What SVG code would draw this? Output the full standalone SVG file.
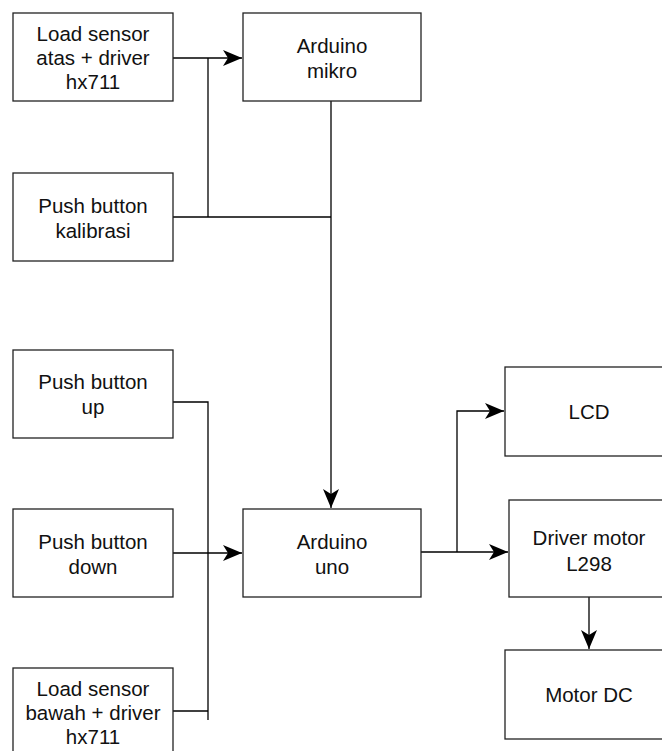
<svg xmlns="http://www.w3.org/2000/svg" width="662" height="751" viewBox="0 0 662 751">
<style>
.box{fill:#fff;stroke:#222;stroke-width:1.3}
.t{font-family:"Liberation Sans",Arial,sans-serif;font-size:20.5px;fill:#111;text-anchor:middle}
.c{fill:none;stroke:#000;stroke-width:1.3}
</style>
<defs>
<marker id="arr" markerUnits="userSpaceOnUse" markerWidth="20" markerHeight="18" refX="19" refY="8" orient="auto">
<path d="M0,0 L19,8 L0,16 L5,8 z" fill="#000"/>
</marker>
</defs>
<rect width="662" height="751" fill="#fff"/>
<g id="connectors">
<path class="c" d="M173,58 H242" marker-end="url(#arr)"/>
<path class="c" d="M173,217 H331"/>
<path class="c" d="M208,58 V217"/>
<path class="c" d="M331,101 V508" marker-end="url(#arr)"/>
<path class="c" d="M173,402 H208 V720"/>
<path class="c" d="M173,711 H208"/>
<path class="c" d="M173,553 H242" marker-end="url(#arr)"/>
<path class="c" d="M421,552 H457"/>
<path class="c" d="M457,552 V411 H504" marker-end="url(#arr)"/>
<path class="c" d="M457,552 H508" marker-end="url(#arr)"/>
<path class="c" d="M589,597 V649" marker-end="url(#arr)"/>
</g>
<g id="load-atas">
<rect class="box" x="13" y="13" width="160" height="88"/>
<text class="t" x="93" y="41">Load sensor</text>
<text class="t" x="93" y="65">atas + driver</text>
<text class="t" x="93" y="89">hx711</text>
</g>
<g id="arduino-mikro">
<rect class="box" x="243" y="13" width="178" height="88"/>
<text class="t" x="332" y="52.5">Arduino</text>
<text class="t" x="332" y="78">mikro</text>
</g>
<g id="push-kalibrasi">
<rect class="box" x="13" y="173" width="160" height="88"/>
<text class="t" x="93" y="212.5">Push button</text>
<text class="t" x="93" y="237.5">kalibrasi</text>
</g>
<g id="push-up">
<rect class="box" x="13" y="350" width="160" height="88"/>
<text class="t" x="93" y="389">Push button</text>
<text class="t" x="93" y="414">up</text>
</g>
<g id="push-down">
<rect class="box" x="13" y="509" width="160" height="88"/>
<text class="t" x="93" y="548.5">Push button</text>
<text class="t" x="93" y="573.5">down</text>
</g>
<g id="load-bawah">
<rect class="box" x="13" y="668" width="160" height="90"/>
<text class="t" x="93" y="696">Load sensor</text>
<text class="t" x="93" y="720">bawah + driver</text>
<text class="t" x="93" y="744">hx711</text>
</g>
<g id="arduino-uno">
<rect class="box" x="243" y="509" width="178" height="88"/>
<text class="t" x="332" y="548.5">Arduino</text>
<text class="t" x="332" y="574">uno</text>
</g>
<g id="lcd">
<rect class="box" x="505" y="367" width="168" height="89"/>
<text class="t" x="589" y="418.5">LCD</text>
</g>
<g id="driver-motor">
<rect class="box" x="509" y="500" width="160" height="97"/>
<text class="t" x="589" y="545">Driver motor</text>
<text class="t" x="589" y="570.5">L298</text>
</g>
<g id="motor-dc">
<rect class="box" x="505" y="650" width="168" height="89"/>
<text class="t" x="589" y="702">Motor DC</text>
</g>
</svg>
